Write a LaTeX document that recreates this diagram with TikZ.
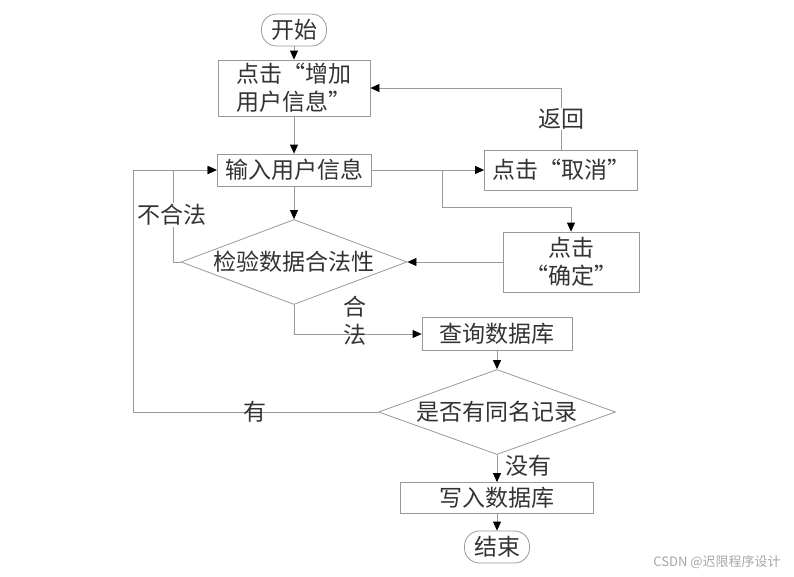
\documentclass[tikz,border=0pt]{standalone}
\usepackage{fontspec}
\setmainfont{Noto Sans CJK SC}
\usetikzlibrary{shapes.geometric,arrows.meta}
\definecolor{ln}{HTML}{999999}
\definecolor{tx}{HTML}{333333}
\tikzset{
  box/.style={draw=ln, line width=0.8pt, rectangle, inner sep=0pt, text=tx},
  term/.style={box, rounded corners=15pt, minimum width=65pt, minimum height=32pt},
  dec/.style={draw=ln, line width=0.8pt, diamond, inner sep=0pt, text=tx},
  arr/.style={draw=ln, line width=0.8pt, -{Triangle[length=9pt,width=8pt,color=black,fill=black]}},
  lbl/.style={text=tx, inner sep=1pt}
}
\begin{document}
\begin{tikzpicture}[x=1pt,y=-1pt,font=\fontsize{23}{28}\selectfont]
\useasboundingbox (0,0) rectangle (794,576);
\node[term] (start) at (294,30) {开始};
\node[box, minimum width=152pt, minimum height=56pt, align=left] (box1) at (294,88) {点击“增加\\用户信息”};
\node[box, minimum width=154pt, minimum height=32pt] (box2) at (294,170) {输入用户信息};
\node[box, minimum width=153pt, minimum height=40pt] (cancel) at (561,170) {点击“取消”};
\node[box, minimum width=136pt, minimum height=60pt, align=center] (confirm) at (571,262) {点击\\“确定”};
\node[dec, minimum width=226pt, minimum height=85pt, aspect=2.66] (d1) at (294,262) {检验数据合法性};
\node[box, minimum width=150pt, minimum height=33pt] (query) at (497,334) {查询数据库};
\node[dec, minimum width=237pt, minimum height=85pt, aspect=2.8] (d2) at (497,412) {是否有同名记录};
\node[box, minimum width=193pt, minimum height=31pt] (write) at (497,498) {写入数据库};
\node[term] (end) at (497,547) {结束};

\coordinate (br) at (442,170);
\coordinate (brd) at (442,207);
\coordinate (lp) at (173,170);
\coordinate (op) at (133,170);

\draw[arr] (start) -- (box1);
\draw[arr] (box1) -- (box2);
\draw[arr] (box2) -- (d1);
\draw[arr] (box2.east) -- (cancel.west);
\draw[arr] (cancel.north) |- (box1.east);
\node[lbl, fill=white] (lret) at (561,119) {返回};
\draw[arr] (br) -- (brd) -| (confirm.north);
\draw[arr] (confirm.west) -- (d1.east);
\draw[arr] (d1.west) -| (lp) -- (box2.west);
\node[lbl, fill=white] (lbad) at (172,215) {不合法};
\draw[arr] (d2.west) -| (op) -- (box2.west);
\node[lbl] (lyes) at (255,412) {有};
\draw[arr] (d1.south) |- (query.west);
\node[lbl, align=center] (lok) at (355,321) {合\\法};
\draw[arr] (query) -- (d2);
\draw[arr] (d2) -- (write);
\node[lbl] (lno) at (528,466) {没有};
\draw[arr] (write) -- (end);
\node[text=gray!70, font=\fontsize{13}{15}\selectfont] (wm) at (717,562) {CSDN @迟限程序设计};
\end{tikzpicture}
\end{document}
